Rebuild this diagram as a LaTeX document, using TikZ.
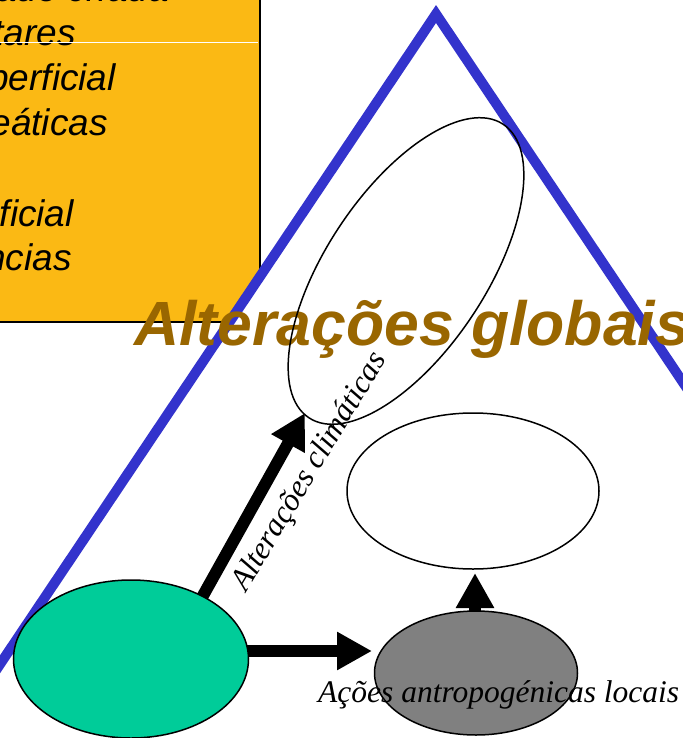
\documentclass[tikz,border=0pt]{standalone}
\usepackage{fontspec}
\setmainfont{Liberation Serif}
\newfontfamily\arialfont{Liberation Sans}
\usetikzlibrary{shapes.geometric,arrows.meta}
\definecolor{boxorange}{RGB}{251,185,20}
\definecolor{triblue}{RGB}{51,51,204}
\definecolor{titlebrown}{RGB}{153,102,0}
\definecolor{seagreen}{RGB}{0,204,153}
\definecolor{midgray}{RGB}{128,128,128}
\begin{document}
\begin{tikzpicture}[x=1pt,y=-1pt,
  boxtext/.style={font=\arialfont\itshape\fontsize{37}{44}\selectfont, anchor=base east, inner sep=0pt},
  oval/.style={ellipse, draw=black, line width=1.5pt, inner sep=0pt},
  bigarrow/.style={line width=12pt, -{Triangle[length=35pt,width=36pt]}},
  labeltext/.style={font=\itshape\fontsize{31.5}{36}\selectfont, inner sep=0pt}]
\useasboundingbox (0,0) rectangle (682,738);
% orange box
\fill[boxorange, draw=black, line width=2pt] (-20,-20) rectangle (260,322);
\node[boxtext] (bt1) at (169,2) {dade criada};
\node[boxtext] (bt2) at (76,46) {tares};
\node[boxtext] (bt3) at (116,91) {perficial};
\node[boxtext] (bt4) at (108,136) {eáticas};
\node[boxtext] (bt5) at (74,226) {ficial};
\node[boxtext] (bt6) at (72,270) {ncias};
\draw[white, line width=1pt] (0,43) -- (258,43);
% triangle
\filldraw[fill=white, draw=triblue, line width=10pt, line join=miter] (436,14) -- (963,800) -- (-91,800) -- cycle;
% title
\node[anchor=base west, inner sep=0pt, text=titlebrown, font=\arialfont\bfseries\itshape\fontsize{62.5}{75}\selectfont] (title) at (134,345) {Alterações globais};
% ellipses
\node[oval, minimum width=352pt, minimum height=160pt, rotate=56.5] (clim) at (406,271) {};
\node[oval, fill=white, minimum width=252pt, minimum height=156pt] (glob) at (473,491) {};
% arrows
\coordinate (dstart) at (200,601);
\coordinate (dend) at (305,413);
\coordinate (hend) at (372,651);
\coordinate (uptip) at (475,573);
\draw[bigarrow] (dstart) -- (dend);
\draw[bigarrow] (131,651) -- (hend);
\draw[bigarrow] (475,673) -- (uptip);
% lower ellipses
\node[oval, fill=seagreen, minimum width=235pt, minimum height=158pt] (green) at (131,659) {};
\node[oval, fill=midgray, minimum width=203pt, minimum height=124pt] (gray) at (476,673) {};
% labels
\node[labeltext, rotate=59] (lclim) at (310,472) {Alterações climáticas};
\node[labeltext, anchor=base west] (lacoes) at (318,702) {Ações antropogénicas locais};
\end{tikzpicture}
\end{document}
